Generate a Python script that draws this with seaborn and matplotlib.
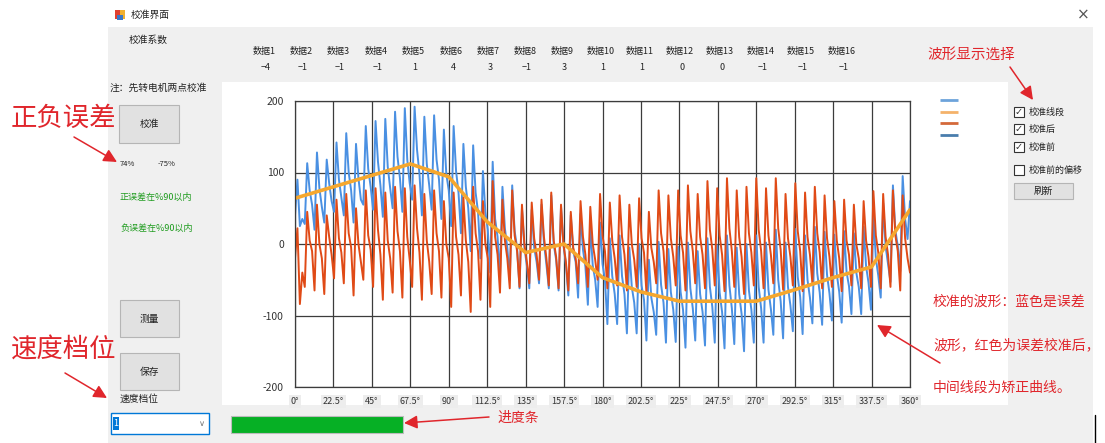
import numpy as np
import pandas as pd
import matplotlib
matplotlib.use("Agg")
import matplotlib.pyplot as plt
from matplotlib.patches import Rectangle
import seaborn as sns

# 校准系数 (数据1..数据16)
coef_names = ["数据%d" % i for i in range(1, 17)]
coef_values = [-4, -1, -1, -1, 1, 4, 3, -1, 3, 1, 1, 0, 0, -1, -1, -1]

# 角度刻度
angle_ticks = [0, 22.5, 45, 67.5, 90, 112.5, 135, 157.5, 180, 202.5, 225, 247.5, 270, 292.5, 315, 337.5, 360]
angle_labels = ["0°", "22.5°", "45°", "67.5°", "90°", "112.5°", "135°", "157.5°", "180°",
                "202.5°", "225°", "247.5°", "270°", "292.5°", "315°", "337.5°", "360°"]
value_ticks = [-200, -100, 0, 100, 200]

# 校准线段 (矫正曲线, 每22.5°一个节点)
corr_angle = [0, 22.5, 45, 67.5, 90, 112.5, 135, 157.5, 180, 202.5, 225, 247.5, 270, 292.5, 315, 337.5, 360]
corr_value = [64, 80, 96, 112, 94, 31, -12, 0, -47, -67, -80, -80, -80, -64, -47, -32, 48]

# 校准前 (蓝色, 误差波形) - 每个周期: 谷, 峰, 中, 中
before_vals = [
    40, 90, 25, 35,
    28, 113, 75, 55,
    20, 128, 78, 52,
    30, 118, 85, 60,
    45, 142, 90, 65,
    40, 155, 100, 75,
    30, 140, 92, 62,
    55, 165, 105, 80,
    48, 172, 115, 82,
    38, 175, 108, 78,
    50, 185, 122, 92,
    45, 190, 118, 85,
    62, 192, 132, 98,
    40, 178, 112, 82,
    48, 180, 118, 90,
    35, 160, 98, 75,
    25, 165, 102, 72,
    15, 140, 80, 50,
    -10, 138, 72, 45,
    -20, 102, 45, 20,
    -40, 115, 35, 10,
    -45, 80, 22, -5,
    -50, 82, 18, -5,
    -62, 50, -5, -30,
    -62, 48, -5, -25,
    -55, 55, 2, -28,
    -62, 68, 0, -22,
    -65, 52, -2, -28,
    -72, 40, -10, -25,
    -75, 42, -8, -32,
    -85, 25, -30, -50,
    -88, 30, -28, -50,
    -112, 8, -45, -70,
    -112, 12, -45, -70,
    -125, -5, -60, -82,
    -125, 0, -58, -78,
    -135, -22, -75, -95,
    -127, 3, -57, -82,
    -138, -7, -67, -92,
    -137, -4, -67, -92,
    -145, 2, -62, -90,
    -135, -10, -70, -95,
    -142, 8, -60, -88,
    -138, -2, -68, -95,
    -146, 12, -58, -90,
    -140, -5, -70, -98,
    -150, 0, -65, -92,
    -138, 12, -60, -90,
    -138, 2, -64, -91,
    -127, 20, -50, -80,
    -132, 2, -60, -86,
    -122, 21, -46, -74,
    -126, 12, -50, -75,
    -111, 24, -41, -68,
    -113, 17, -43, -69,
    -107, 13, -42, -67,
    -110, 18, -39, -59,
    -98, 15, -40, -60,
    -98, 24, -31, -54,
    -92, 42, -20, -44,
    -75, 57, -3, -28,
    -53, 82, 19, -3,
    -38, 95, 35, 7,
    60,
]

# 校准后 (红色)
after_vals = [
    -20, 22, -84, -40,
    -60, 45, 5, -10,
    -65, 55, 0, -20,
    -70, 40, 10, -15,
    -48, 62, 8, -12,
    -55, 70, 15, -5,
    -72, 50, 0, -25,
    -50, 75, 12, -8,
    -60, 78, 20, -15,
    -78, 72, 5, -20,
    -68, 80, 18, -10,
    -75, 78, 10, -22,
    -60, 82, 22, -12,
    -78, 70, 5, -25,
    -70, 75, 15, -10,
    -75, 60, 0, -20,
    -88, 72, 10, -15,
    -72, 65, 5, -25,
    -95, 80, 15, -10,
    -78, 60, 0, -20,
    -88, 88, 10, -15,
    -68, 62, 5, -20,
    -62, 75, 12, -10,
    -60, 55, 0, -25,
    -55, 58, 8, -15,
    -50, 62, 10, -20,
    -58, 72, 5, -18,
    -62, 55, 0, -25,
    -65, 45, -5, -20,
    -55, 60, 10, -15,
    -60, 52, 0, -22,
    -50, 70, 12, -10,
    -62, 58, 5, -20,
    -58, 68, 10, -15,
    -65, 55, 0, -22,
    -60, 64, 8, -12,
    -68, 45, -5, -25,
    -55, 75, 15, -10,
    -62, 68, 8, -18,
    -58, 75, 12, -12,
    -65, 82, 18, -10,
    -55, 70, 10, -15,
    -62, 88, 20, -8,
    -58, 78, 12, -15,
    -66, 92, 22, -10,
    -60, 75, 10, -18,
    -70, 80, 15, -12,
    -58, 92, 20, -10,
    -62, 78, 12, -15,
    -55, 92, 22, -8,
    -64, 70, 8, -18,
    -58, 85, 18, -10,
    -66, 72, 10, -15,
    -55, 80, 15, -12,
    -62, 68, 8, -18,
    -60, 60, 5, -20,
    -66, 62, 5, -15,
    -58, 55, 0, -20,
    -62, 60, 5, -18,
    -60, 74, 12, -12,
    -62, 70, 10, -15,
    -60, 75, 12, -10,
    -65, 68, 8, -20,
    -40,
]

checkbox_labels = ["校准线段", "校准后", "校准前", "校准前的偏移"]
checkbox_state = [True, True, True, False]
legend_colors = ["#6DA3DB", "#F4B26A", "#D4693A", "#4A7DAD"]

BLUE = "#4A90E2"
RED = "#E04A16"
ORANGE = "#F5A72E"
ANNO = "#E0262C"

sns.set_theme(style="white")
plt.rcParams["font.family"] = ["Noto Sans CJK SC", "DejaVu Sans"]
plt.rcParams["axes.unicode_minus"] = False

W, H = 1105, 443
fig = plt.figure(figsize=(W / 100, H / 100), dpi=100)

# 背景界面 (像素坐标)
ui = fig.add_axes([0, 0, 1, 1])
ui.set_xlim(0, W)
ui.set_ylim(H, 0)
ui.axis("off")
ui.set_zorder(0)

ui.add_patch(Rectangle((108, 27), 1093 - 108, H - 27, fc="#F0F0F0", ec="none"))
ui.add_patch(Rectangle((222, 82), 1008 - 222, 405 - 82, fc="white", ec="none"))

# 标题栏
for dx, c in zip([0, 5], ["#E04030", "#F0B030"]):
    ui.add_patch(Rectangle((115 + dx, 10), 5, 9, fc=c, ec="none"))
ui.add_patch(Rectangle((117, 15), 6, 5, fc="#3A78C8", ec="none"))
ui.text(131, 15, "校准界面", fontsize=7, va="center", color="#222")
ui.text(1083, 15, "×", fontsize=11, va="center", ha="center", color="#555", family="DejaVu Sans")

ui.text(129, 40, "校准系数", fontsize=7, va="center", color="#222")
col_x = [264, 301, 338, 376, 413, 451, 488, 525, 562, 601, 640, 680, 720, 761, 801, 842]
for cx, name, v in zip(col_x, coef_names, coef_values):
    ui.text(cx, 51, name, fontsize=6.5, ha="center", va="center", color="#222")
    ui.text(cx + 2, 67, str(v).replace("-", "−"), fontsize=6.5, ha="center", va="center", color="#222")

ui.text(110, 88, "注：先转电机两点校准", fontsize=7, va="center", color="#222")

def button(x, y, w, h, label):
    ui.add_patch(Rectangle((x, y), w, h, fc="#E1E1E1", ec="#B5B5B5", lw=0.8))
    ui.text(x + w / 2, y + h / 2, label, fontsize=7, ha="center", va="center", color="#222")

button(119, 105, 60, 38, "校准")
button(120, 300, 59, 37, "测量")
button(120, 353, 59, 37, "保存")
button(1014, 183, 59, 16, "刷新")

ui.text(120, 164, "74%", fontsize=5.5, va="center", color="#222")
ui.text(158, 164, "-75%", fontsize=5.5, va="center", color="#222")
ui.text(120, 197, "正误差在%90以内", fontsize=6.5, va="center", color="#1E9B1E")
ui.text(120, 228, "负误差在%90以内", fontsize=6.5, va="center", color="#1E9B1E")
ui.text(120, 399, "速度档位", fontsize=7, va="center", color="#222")

# 下拉框与进度条
ui.add_patch(Rectangle((111, 413), 98, 21, fc="white", ec="#0078D7", lw=1))
ui.add_patch(Rectangle((113, 417), 6, 13, fc="#0078D7", ec="none"))
ui.text(116, 423, "1", fontsize=6.5, ha="center", va="center", color="white")
ui.text(202, 424, "∨", fontsize=6, ha="center", va="center", color="#777", family="DejaVu Sans")
ui.add_patch(Rectangle((231, 416), 172, 17, fc="#06B025", ec="#BCBCBC", lw=0.8))
ui.plot([1095, 1095], [415, 443], color="black", lw=1)

# 图例线 (无文字)
for i, c in enumerate(legend_colors):
    ui.plot([940, 958], [100 + i * 11.7, 100 + i * 11.7], color=c, lw=2, solid_capstyle="butt")

# 复选框
for i, (lab, st) in enumerate(zip(checkbox_labels, checkbox_state)):
    y = [112, 129, 147, 170][i]
    ui.add_patch(Rectangle((1014, y - 5), 10, 10, fc="white", ec="#333", lw=0.8))
    if st:
        ui.text(1019, y, "✓", fontsize=7, ha="center", va="center", color="#333", family="DejaVu Sans")
    ui.text(1029, y, lab, fontsize=6.5, va="center", color="#222")

# 波形图
ax = fig.add_axes([295 / W, 1 - 387 / H, (910 - 295) / W, (387 - 101) / H])
ax.set_zorder(1)
ax.set_facecolor("white")

before_df = pd.DataFrame({"angle": np.linspace(0, 360, len(before_vals)), "value": before_vals})
after_df = pd.DataFrame({"angle": np.linspace(0, 360, len(after_vals)), "value": after_vals})
corr_df = pd.DataFrame({"angle": corr_angle, "value": corr_value})

sns.lineplot(data=before_df, x="angle", y="value", color=BLUE, lw=1.4, ax=ax)
sns.lineplot(data=after_df, x="angle", y="value", color=RED, lw=1.4, ax=ax)
sns.lineplot(data=corr_df, x="angle", y="value", color=ORANGE, lw=2.6, ax=ax)

ax.set_xlim(0, 360)
ax.set_ylim(-200, 200)
ax.set_xticks(angle_ticks)
ax.set_xticklabels(angle_labels)
ax.set_yticks(value_ticks)
ax.set_xlabel("")
ax.set_ylabel("")
ax.grid(True, color="#3C3C3C", lw=0.9)
ax.set_axisbelow(True)
for s in ax.spines.values():
    s.set_color("#3C3C3C")
    s.set_linewidth(0.9)
ax.tick_params(axis="y", direction="out", length=7, width=0.9, color="#555", labelsize=7.5, labelcolor="#333", pad=1)
ax.tick_params(axis="x", direction="out", length=4, width=0.9, color="#555", labelsize=6.5, labelcolor="#333", pad=3)
for lbl in ax.get_xticklabels():
    lbl.set_bbox(dict(facecolor="#EDEDED", edgecolor="none", pad=1.5))

# 标注 (红字与箭头)
fg = fig.add_axes([0, 0, 1, 1])
fg.set_xlim(0, W)
fg.set_ylim(H, 0)
fg.axis("off")
fg.set_zorder(2)
fg.patch.set_alpha(0)

fg.text(63, 118, "正负误差", fontsize=19, ha="center", va="center", color=ANNO)
fg.text(64, 350, "速度档位", fontsize=19, ha="center", va="center", color=ANNO)
fg.text(971, 55, "波形显示选择", fontsize=10.5, ha="center", va="center", color=ANNO)
fg.text(933, 302, "校准的波形：蓝色是误差", fontsize=10, va="center", color=ANNO)
fg.text(933, 345, "波形，红色为误差校准后，", fontsize=10, va="center", color=ANNO)
fg.text(933, 388, "中间线段为矫正曲线。", fontsize=10, va="center", color=ANNO)
fg.text(497, 418, "进度条", fontsize=10, va="center", color=ANNO)

arrows = [((74, 137), (117, 162)), ((65, 373), (107, 398)), ((1010, 67), (1033, 100)),
          ((940, 363), (877, 325)), ((489, 417), (404, 423))]
for tail, tip in arrows:
    fg.annotate("", xy=tip, xytext=tail,
                arrowprops=dict(arrowstyle="-|>", color=ANNO, lw=1.1, mutation_scale=20, shrinkA=0, shrinkB=0))

fig.savefig("out.png", dpi=100)
